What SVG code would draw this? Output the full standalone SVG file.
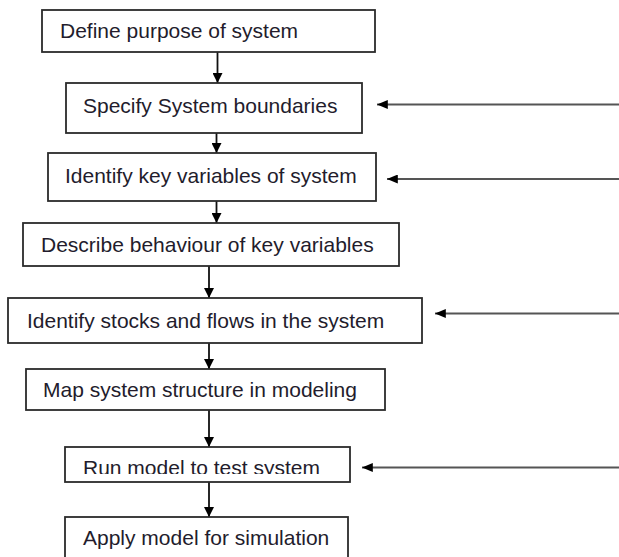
<svg xmlns="http://www.w3.org/2000/svg" width="619" height="557" viewBox="0 0 619 557">
  <style>
    .box { fill: #ffffff; stroke: #2b2b2b; stroke-width: 1.8; }
    .label { font-family: "Liberation Sans", Arial, sans-serif; font-size: 21px; fill: #231c2c; }
    .flow { stroke: #111111; stroke-width: 1.8; fill: none; }
    .input { stroke: #555555; stroke-width: 2; fill: none; }
  </style>
  <defs>
    <marker id="head" viewBox="0 0 10 10" refX="10" refY="5" markerWidth="10" markerHeight="10" markerUnits="userSpaceOnUse" orient="auto">
      <path d="M0,0 L10,5 L0,10 Z" fill="#000000"/>
    </marker>
    <marker id="headSide" viewBox="0 0 12 10" refX="12" refY="5" markerWidth="12" markerHeight="9" markerUnits="userSpaceOnUse" orient="auto">
      <path d="M0,0 L12,5 L0,10 Z" fill="#000000"/>
    </marker>
    <clipPath id="runClip">
      <rect x="60" y="440" width="300" height="34"/>
    </clipPath>
  </defs>

  <rect width="619" height="557" fill="#ffffff"/>

  <g id="connectors">
    <line class="flow" x1="217.5" y1="52" x2="217.5" y2="83" marker-end="url(#head)"/>
    <line class="flow" x1="216.5" y1="133" x2="216.5" y2="153" marker-end="url(#head)"/>
    <line class="flow" x1="216.5" y1="201" x2="216.5" y2="223" marker-end="url(#head)"/>
    <line class="flow" x1="209" y1="266" x2="209" y2="298" marker-end="url(#head)"/>
    <line class="flow" x1="209" y1="343" x2="209" y2="369" marker-end="url(#head)"/>
    <line class="flow" x1="209" y1="410" x2="209" y2="447" marker-end="url(#head)"/>
    <line class="flow" x1="209" y1="482" x2="209" y2="517" marker-end="url(#head)"/>

    <line class="input" x1="619" y1="104.5" x2="377" y2="104.5" marker-end="url(#headSide)"/>
    <line class="input" x1="619" y1="179" x2="387" y2="179" marker-end="url(#headSide)"/>
    <line class="input" x1="619" y1="313.5" x2="435" y2="313.5" marker-end="url(#headSide)"/>
    <line class="input" x1="619" y1="467.5" x2="362" y2="467.5" marker-end="url(#headSide)"/>
  </g>

  <g id="define-purpose">
    <rect class="box" x="42" y="10" width="333" height="42"/>
    <text class="label" x="60" y="38">Define purpose of system</text>
  </g>

  <g id="specify-boundaries">
    <rect class="box" x="66" y="83" width="296" height="50"/>
    <text class="label" x="83" y="113">Specify System boundaries</text>
  </g>

  <g id="identify-variables">
    <rect class="box" x="48" y="153" width="328" height="48"/>
    <text class="label" x="65" y="183">Identify key variables of system</text>
  </g>

  <g id="describe-behaviour">
    <rect class="box" x="23" y="223" width="376" height="43"/>
    <text class="label" x="41" y="252">Describe behaviour of key variables</text>
  </g>

  <g id="stocks-flows">
    <rect class="box" x="8" y="298" width="414" height="45"/>
    <text class="label" x="27" y="328">Identify stocks and flows in the system</text>
  </g>

  <g id="map-structure">
    <rect class="box" x="26" y="369" width="359" height="41"/>
    <text class="label" x="43" y="397">Map system structure in modeling</text>
  </g>

  <g id="run-model">
    <rect class="box" x="65" y="447" width="285" height="35"/>
    <text class="label" x="83" y="475" clip-path="url(#runClip)">Run model to test system</text>
  </g>

  <g id="apply-model">
    <rect class="box" x="65" y="517" width="283" height="50"/>
    <text class="label" x="83" y="545">Apply model for simulation</text>
  </g>
</svg>
